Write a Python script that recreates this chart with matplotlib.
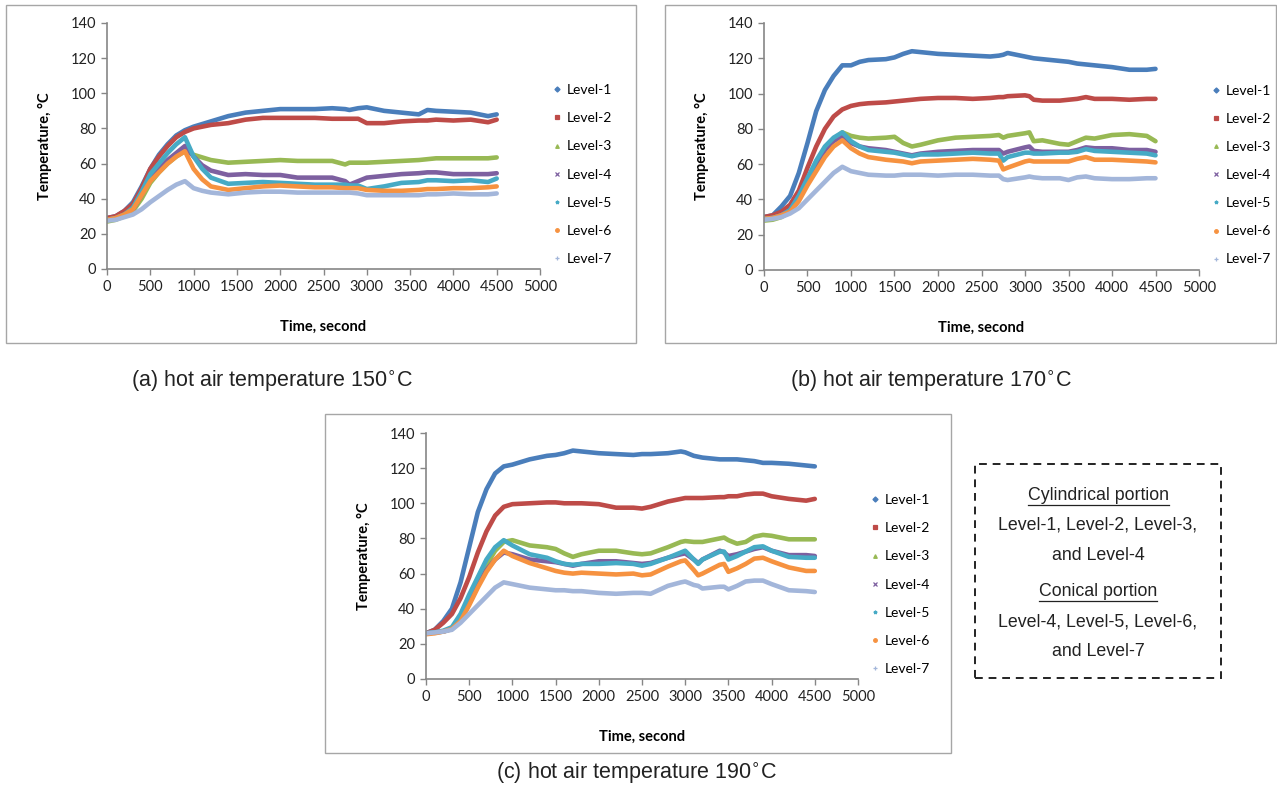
"""
Recreates the three-panel drying-chamber temperature figure:
temperature at seven levels vs time for hot air at 150, 170 and 190 C.
Values are read off the original Excel charts.
"""
import matplotlib
matplotlib.use("Agg")
import matplotlib.pyplot as plt
from matplotlib.lines import Line2D
from matplotlib.patches import Rectangle

LEVELS = ["Level-1", "Level-2", "Level-3", "Level-4", "Level-5", "Level-6", "Level-7"]
COLORS = ["#4a7ebb", "#be4b48", "#98b954", "#7d60a0", "#46aac5", "#f69240", "#a3b6da"]
MARKERS = ["D", "s", "^", "x", "*", "o", "+"]

# (a) 150 C
T_A = [0, 100, 200, 300, 400, 500, 600, 700, 800, 900, 1000, 1100, 1200, 1400, 1600, 1800, 2000,
       2200, 2400, 2600, 2750, 2800, 2900, 3000, 3200, 3400, 3600, 3700, 3800, 4000, 4200, 4400, 4500]
A1 = [29, 30, 33, 38, 47, 57, 65, 71, 76, 79, 81, 82.5, 84, 87, 89, 90, 91,
      91, 91, 91.5, 91, 90.5, 91.5, 92, 90, 89, 88, 90.5, 90, 89.5, 89, 87, 88]
A2 = [29, 30, 33, 37, 46, 57, 64, 70, 75, 78, 80, 81, 82, 83, 85, 86, 86,
      86, 86, 85.5, 85.5, 85.5, 85.5, 83, 83, 84, 84.5, 84.5, 85, 84.5, 85, 83.5, 85]
A3 = [27, 28, 30, 33, 40, 49, 55, 60, 64, 67, 65, 63.5, 62, 60.5, 61, 61.5, 62,
      61.5, 61.5, 61.5, 59.5, 60.5, 60.5, 60.5, 61, 61.5, 62, 62.5, 63, 63, 63, 63, 63.5]
A4 = [28, 29, 31, 34, 42, 52, 57, 62, 66, 70, 64, 59, 56, 53.5, 54, 53.5, 53.5,
      52, 52, 52, 50, 48, 50, 52, 53, 54, 54.5, 55, 55, 54, 54, 54, 54.5]
A5 = [28, 29, 31, 35, 44, 54, 60, 66, 71, 75, 64, 57, 52, 48.5, 49, 49.5, 49,
      48.5, 48, 48, 48, 47.5, 47.5, 45.5, 47, 49, 49.5, 50.5, 50.5, 50, 50.5, 49.5, 51.5]
A6 = [28, 29, 31, 34, 42, 50, 55, 60, 64, 67, 57, 51, 47, 45, 46, 47, 47.5,
      47, 46.5, 46.5, 46, 46, 46, 45, 44.5, 44.5, 45, 45.5, 45.5, 46, 46, 46.5, 47]
A7 = [27.5, 28, 29.5, 31, 34, 38, 41.5, 45, 48, 50, 46, 44.5, 43.5, 42.5, 43.5, 44, 44,
      43.5, 43.5, 43.5, 43.5, 43.5, 43, 42, 42, 42, 42, 42.5, 42.5, 43, 42.5, 42.5, 43]

# (b) 170 C
T_B = [0, 100, 200, 300, 400, 500, 600, 700, 800, 900, 1000, 1100, 1200, 1400, 1500, 1600, 1700,
       1800, 2000, 2200, 2400, 2600, 2700, 2750, 2800, 3000, 3050, 3100, 3200, 3400, 3500, 3600,
       3700, 3800, 4000, 4200, 4400, 4500]
B1 = [30, 31, 36, 42, 55, 72, 90, 102, 110, 116, 116, 118, 119, 119.5, 120.5, 122.5, 124,
      123.5, 122.5, 122, 121.5, 121, 121.5, 122, 123, 121, 120.5, 120, 119.5, 118.5, 118, 117,
      116.5, 116, 115, 113.5, 113.5, 114]
B2 = [30, 31, 33, 37, 45, 58, 70, 80, 87, 91, 93, 94, 94.5, 95, 95.5, 96, 96.5,
      97, 97.5, 97.5, 97, 97.5, 98, 98, 98.5, 99, 98.5, 96.5, 96, 96, 96.5, 97,
      98, 97, 97, 96.5, 97, 97]
B3 = [28, 28.5, 30, 33, 40, 50, 60, 68, 74, 78, 76, 75, 74.5, 75, 75.5, 72, 70,
      71, 73.5, 75, 75.5, 76, 76.5, 75, 76, 77.5, 78, 73, 73.5, 71.5, 71, 73,
      75, 74.5, 76.5, 77, 76, 73]
B4 = [29, 29.5, 31, 34, 42, 52, 60, 68, 73, 76, 72, 70, 69, 68, 67, 66, 65,
      66, 67, 67.5, 68, 68, 68, 66, 67, 69.5, 70, 67.5, 67, 67, 67, 68,
      69.5, 69, 69, 68, 68, 67]
B5 = [29, 29.5, 31, 34, 42, 52, 62, 70, 75, 78, 73, 70, 68, 67, 66.5, 65.5, 64.5,
      65.5, 65.5, 66, 66.5, 66, 66, 62, 64, 66.5, 66.5, 66, 66, 66.5, 66.5, 67,
      68.5, 67.5, 67, 66.5, 66, 65]
B6 = [29, 29.5, 31, 33, 39, 48, 56, 64, 70, 73.5, 69, 66, 64, 62.5, 62, 61.5, 60.5,
      61.5, 62, 62.5, 63, 62.5, 62, 57, 58, 61.5, 62, 61.5, 61.5, 61.5, 61.5, 63,
      64, 62.5, 62.5, 62, 61.5, 61]
B7 = [28.5, 29, 30, 32, 35, 40, 45, 50, 55, 58.5, 56, 55, 54, 53.5, 53.5, 54, 54,
      54, 53.5, 54, 54, 53.5, 53.5, 51.5, 51, 52.5, 53, 52.5, 52, 52, 51, 52.5,
      53, 52, 51.5, 51.5, 52, 52]

# (c) 190 C
T_C = [0, 100, 200, 300, 400, 500, 600, 700, 800, 900, 1000, 1200, 1400, 1500, 1600, 1700, 1800,
       2000, 2200, 2400, 2500, 2600, 2800, 2950, 3000, 3100, 3150, 3200, 3400, 3450, 3500, 3600,
       3700, 3800, 3900, 4000, 4200, 4400, 4500]
C1 = [26, 28, 33, 40, 55, 75, 95, 108, 117, 121, 122, 125, 127, 127.5, 128.5, 130, 129.5,
      128.5, 128, 127.5, 128, 128, 128.5, 129.5, 129, 127, 126.5, 126, 125, 125, 125, 125,
      124.5, 124, 123, 123, 122.5, 121.5, 121]
C2 = [26, 28, 32, 37, 46, 58, 72, 84, 93, 98, 99.5, 100, 100.5, 100.5, 100, 100, 100,
      99.5, 97.5, 97.5, 97, 98, 101, 102.5, 103, 103, 103, 103, 103.5, 103.5, 104, 104,
      105, 105.5, 105.5, 104, 102.5, 101.5, 102.5]
C3 = [26, 26.5, 27, 28.5, 35, 45, 55, 65, 73, 78, 79, 76, 75, 74, 71.5, 69.5, 71,
      73, 73, 71.5, 71, 71.5, 75, 78, 78.5, 78, 78, 78, 80, 80.5, 79, 77,
      78, 81, 82, 81.5, 79.5, 79.5, 79.5]
C4 = [26, 26.5, 27, 28.5, 33, 43, 53, 62, 68, 72, 71, 68, 67, 66.5, 65.5, 64.5, 65.5,
      67, 67, 66, 65.5, 66, 69, 71, 71.5, 68, 66, 68, 73, 72, 70, 71,
      72.5, 74, 75, 73, 70.5, 70.5, 70]
C5 = [26, 26.5, 27.5, 29.5, 37, 48, 58, 68, 75, 79, 76, 71, 69, 67, 65.5, 65, 65.5,
      65.5, 66, 65.5, 64.5, 65.5, 69, 72, 73, 68, 65.5, 68, 72.5, 72.5, 68, 70,
      72.5, 75, 75.5, 73, 69.5, 69, 69]
C6 = [25.5, 26, 27, 28.5, 33, 42, 52, 61, 68, 73, 70, 66, 63, 61.5, 60.5, 60, 60.5,
      60, 59.5, 60, 59, 59.5, 64, 67, 67.5, 62, 59, 60, 65, 65.5, 61, 63,
      65.5, 68.5, 69, 67, 63.5, 61.5, 61.5]
C7 = [26, 26.5, 27, 28, 32, 37, 42, 47, 52, 55, 54, 52, 51, 50.5, 50.5, 50, 50,
      49, 48.5, 49, 49, 48.5, 53, 55, 55.5, 53.5, 53, 51.5, 52.5, 52.5, 51, 53,
      55.5, 56, 56, 54, 50.5, 50, 49.5]

CAPTIONS = ["(a) hot air temperature 150$^{\\circ}$C",
            "(b) hot air temperature 170$^{\\circ}$C",
            "(c) hot air temperature 190$^{\\circ}$C"]

W, H = 1277, 792
FONT = "Lato"
GRAY = "#868686"


def px(x0, y0, x1, y1):
    """pixel box (top-left origin) -> figure-fraction [left, bottom, width, height]"""
    return [x0 / W, 1 - y1 / H, (x1 - x0) / W, (y1 - y0) / H]


def panel(fig, axbox, frame, t, series, caption, cap_xy):
    fig.add_artist(Rectangle((frame[0], frame[1]), frame[2], frame[3],
                             transform=fig.transFigure, fill=False,
                             edgecolor="#a6a6a6", lw=1.0))
    ax = fig.add_axes(axbox)
    for ys, c in zip(series, COLORS):
        ax.plot(t, ys, color=c, lw=3.3, solid_capstyle="round", solid_joinstyle="round")
    ax.set_xlim(0, 5000)
    ax.set_ylim(0, 140)
    ax.set_xticks(range(0, 5001, 500))
    ax.set_yticks(range(0, 141, 20))
    for s in ("top", "right"):
        ax.spines[s].set_visible(False)
    for s in ("left", "bottom"):
        ax.spines[s].set_color(GRAY)
        ax.spines[s].set_linewidth(1.2)
    ax.tick_params(direction="out", length=4, width=1, color=GRAY,
                   labelsize=10.5, labelcolor="#222222", pad=4)
    for lab in ax.get_xticklabels() + ax.get_yticklabels():
        lab.set_family(FONT)
    ax.set_ylabel("Temperature, °C", fontsize=10.5, fontweight="bold", family=FONT)
    ax.set_xlabel("Time, second", fontsize=10.5, fontweight="bold", family=FONT)
    ax.yaxis.set_label_coords(-0.127, 0.5)
    ax.xaxis.set_label_coords(0.5, -0.205)

    handles = [Line2D([], [], ls="none", marker=m, color=c, markersize=2.6, mew=0.9)
               for m, c in zip(MARKERS, COLORS)]
    ax.legend(handles, LEVELS, loc="center left", bbox_to_anchor=(1.013, 0.384),
              frameon=False, prop={"family": FONT, "size": 10},
              handlelength=0.7, handletextpad=0.35, labelspacing=1.16, borderpad=0)
    fig.text(cap_xy[0] / W, 1 - cap_xy[1] / H, caption, ha="center", va="center",
             fontsize=15.5, family="Liberation Sans", color="#222222")
    return ax


def main():
    fig = plt.figure(figsize=(W / 100, H / 100), dpi=100)

    panel(fig, px(107, 23, 540, 269), px(6, 5, 636, 343), T_A,
          [A1, A2, A3, A4, A5, A6, A7], CAPTIONS[0], (272, 381))
    panel(fig, px(764, 23, 1199, 270), px(665, 5, 1276, 343), T_B,
          [B1, B2, B3, B4, B5, B6, B7], CAPTIONS[1], (931, 381))
    panel(fig, px(426, 433, 858, 679), px(325, 414, 951, 753), T_C,
          [C1, C2, C3, C4, C5, C6, C7], CAPTIONS[2], (637, 773))

    # dashed note box
    fig.add_artist(Rectangle((975 / W, 1 - 678 / H), 246 / W, 214 / H,
                             transform=fig.transFigure, fill=False,
                             edgecolor="#222222", lw=1.4, ls=(0, (4, 3))))
    lines = [("Cylindrical portion", True, 495), ("Level-1, Level-2, Level-3,", False, 525),
             ("and Level-4", False, 556), ("Conical portion", True, 591),
             ("Level-4, Level-5, Level-6,", False, 622), ("and Level-7", False, 652)]
    heads = []
    for txt, ul, y in lines:
        t = fig.text(1098 / W, 1 - y / H, txt, ha="center", va="center",
                     fontsize=12.8, family="Liberation Sans", color="#222222")
        if ul:
            heads.append((t, y))
    fig.canvas.draw()
    r = fig.canvas.get_renderer()
    for t, y in heads:
        bb = t.get_window_extent(r)
        yl = 1 - (y + 10) / H
        fig.add_artist(Line2D([bb.x0 / W, bb.x1 / W], [yl, yl], transform=fig.transFigure,
                              color="#222222", lw=0.9))

    fig.savefig("out.png", dpi=100)


if __name__ == "__main__":
    main()
